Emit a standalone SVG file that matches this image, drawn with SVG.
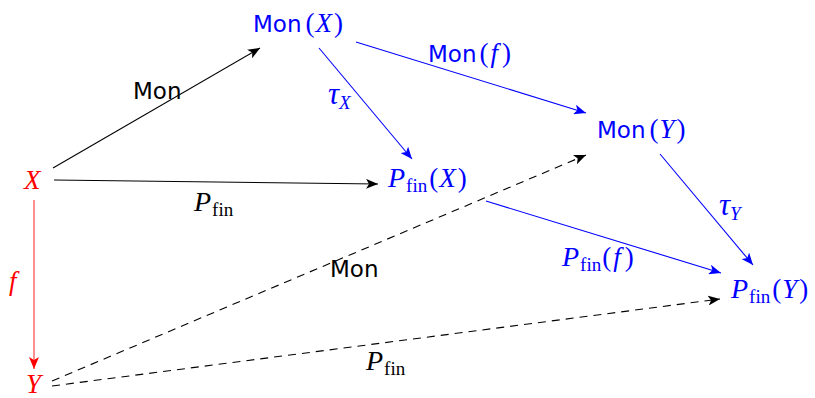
<svg xmlns="http://www.w3.org/2000/svg" width="815" height="398" viewBox="0 0 815 398">
<style>
.sans{font-family:"DejaVu Sans","Liberation Sans",sans-serif;font-size:23px;}
.it{font-family:"Liberation Serif",serif;font-style:italic;font-size:27px;}
.rm{font-family:"Liberation Serif",serif;font-size:27px;}
.P{font-family:"Liberation Serif",serif;font-style:italic;font-size:28px;}
.tau{font-family:"Liberation Serif",serif;font-style:italic;font-size:31px;}
.sub{font-size:19px;}
.blue{fill:#0000ff;}
.red{fill:#ff0000;}
.black{fill:#000;}
.e{fill:none;stroke-width:1.1;}
.eb{stroke:#000;marker-end:url(#ak);}
.eu{stroke:#0000ff;marker-end:url(#au);}
.er{stroke:#ff3333;marker-end:url(#ar);}
.d{stroke-dasharray:8 6;}
</style>
<defs>
<marker id="ak" markerUnits="userSpaceOnUse" markerWidth="14" markerHeight="10" refX="12" refY="5" orient="auto"><path d="M0,0 L12,5 L0,10 L3,5 Z" fill="#000"/></marker>
<marker id="au" markerUnits="userSpaceOnUse" markerWidth="14" markerHeight="10" refX="12" refY="5" orient="auto"><path d="M0,0 L12,5 L0,10 L3,5 Z" fill="#0000ff"/></marker>
<marker id="ar" markerUnits="userSpaceOnUse" markerWidth="14" markerHeight="10" refX="12" refY="5" orient="auto"><path d="M0,0 L12,5 L0,10 L3,5 Z" fill="#ff0000"/></marker>
</defs>
<g id="connectors">
<line class="e eb" x1="53" y1="168" x2="260" y2="48"/>
<line class="e eb" x1="54" y1="180" x2="378" y2="184"/>
<line class="e er" x1="34" y1="200" x2="34" y2="369"/>
<line class="e eu" x1="319" y1="48" x2="412" y2="159"/>
<line class="e eu" x1="356" y1="42" x2="586" y2="113"/>
<line class="e eu" x1="660" y1="154" x2="753" y2="265"/>
<line class="e eu" x1="486" y1="201" x2="721" y2="273"/>
<line class="e eb d" x1="52" y1="381" x2="586" y2="155"/>
<line class="e eb d" x1="52" y1="386" x2="720" y2="299"/>
<g id="labels">
<text class="sans black" x="133" y="99">Mon</text>
<text class="black" x="194" y="211"><tspan class="P">P</tspan><tspan class="rm sub" dx="1" dy="5">fin</tspan></text>
<text class="it red" x="9" y="290">f</text>
<text class="blue" x="328" y="104"><tspan class="tau">τ</tspan><tspan class="it sub" dy="5">X</tspan></text>
<text class="blue" x="428" y="62"><tspan class="sans">Mon</tspan><tspan class="rm" dx="3">(</tspan><tspan class="it" dx="2">f</tspan><tspan class="rm" dx="4">)</tspan></text>
<text class="blue" x="719" y="215"><tspan class="tau">τ</tspan><tspan class="it sub" dy="5">Y</tspan></text>
<text class="blue" x="562" y="266"><tspan class="P">P</tspan><tspan class="rm sub" dx="1" dy="5">fin</tspan><tspan class="rm" dx="1" dy="-5">(</tspan><tspan class="it" dx="2">f</tspan><tspan class="rm" dx="4">)</tspan></text>
<text class="sans black" x="330" y="277">Mon</text>
<text class="black" x="366" y="370"><tspan class="P">P</tspan><tspan class="rm sub" dx="1" dy="5">fin</tspan></text>
</g>
</g>
<g id="X"><text class="it red" x="24" y="189">X</text></g>
<g id="Y"><text class="it red" x="26" y="393">Y</text></g>
<g id="MonX"><text class="blue" x="253" y="32"><tspan class="sans">Mon</tspan><tspan class="rm" dx="4">(</tspan><tspan class="it" dx="1">X</tspan><tspan class="rm" dx="2">)</tspan></text></g>
<g id="PfinX"><text class="blue" x="388" y="187"><tspan class="P">P</tspan><tspan class="rm sub" dx="1" dy="5">fin</tspan><tspan class="rm" dx="2" dy="-5">(</tspan><tspan class="it" dx="1">X</tspan><tspan class="rm" dx="2">)</tspan></text></g>
<g id="MonY"><text class="blue" x="597" y="138"><tspan class="sans">Mon</tspan><tspan class="rm" dx="4">(</tspan><tspan class="it" dx="1">Y</tspan><tspan class="rm" dx="2">)</tspan></text></g>
<g id="PfinY"><text class="blue" x="731" y="298"><tspan class="P">P</tspan><tspan class="rm sub" dx="1" dy="5">fin</tspan><tspan class="rm" dx="2" dy="-5">(</tspan><tspan class="it" dx="1">Y</tspan><tspan class="rm" dx="2">)</tspan></text></g>
</svg>
